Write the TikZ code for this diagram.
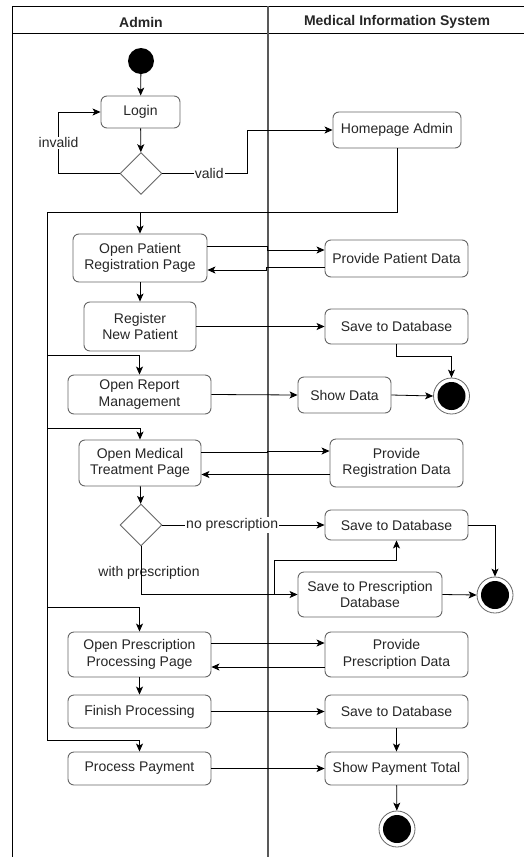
\documentclass[tikz,border=0pt]{standalone}
\usepackage{fontspec}
\setmainfont{Liberation Sans}
\usetikzlibrary{shapes.geometric,arrows.meta,calc}
\begin{document}
\begin{tikzpicture}[x=1pt,y=-1pt,
  act/.style={draw=black!60, line width=0.9pt, rounded corners=6pt, fill=white, inner sep=0pt, align=center, text=black!85, font=\fontsize{14}{16.5}\selectfont},
  box/.style 2 args={act, minimum width=#1pt, minimum height=#2pt},
  dec/.style={draw=black!60, line width=0.9pt, diamond, inner sep=0pt, minimum width=42pt, minimum height=42pt, fill=white},
  startnode/.style={circle, fill=black, inner sep=0pt, minimum size=26pt},
  endnode/.style={circle, draw=black!60, line width=0.8pt, fill=white, inner sep=0pt, minimum size=36pt},
  conn/.style={draw=black, line width=0.8pt},
  arr/.style={conn, -{Stealth[length=8pt,width=7pt,inset=2pt]}},
  lbl/.style={fill=white, inner sep=1pt, text=black!85, font=\fontsize{14}{16}\selectfont},
  lblfree/.style={inner sep=1pt, text=black!85, font=\fontsize{14}{16}\selectfont},
  lanehead/.style={text=black!85, font=\bfseries\fontsize{14}{16}\selectfont},
  lane/.style={draw=black, line width=1pt},
  divider/.style={draw=black!65, line width=1.2pt},
]
\useasboundingbox (0,0) rectangle (524,857);
\fill[white] (0,0) rectangle (524,857);

% swimlanes
\draw[lane] (12,857) -- (12,6) -- (524,6);
\draw[lane] (12,33) -- (524,33);
\draw[divider] (268,6) -- (268,857);
\node[lanehead] (hadmin) at (141,22) {Admin};
\node[lanehead] (hmis) at (397,22) {Medical Information System};

% nodes
\node[startnode] (start) at (141,61) {};
\node[box={79}{32}] (login) at (140.5,112) {Login};
\node[dec] (dec1) at (141,173.5) {};
\node[box={128}{36}] (home) at (397,130) {Homepage Admin};
\node[box={134}{48}] (oprp) at (140,258) {Open Patient\\Registration Page};
\node[box={143}{37}] (ppd) at (396.5,258.5) {Provide Patient Data};
\node[box={112}{49}] (rnp) at (140,326.5) {Register\\New Patient};
\node[box={143}{35}] (sdb1) at (396.5,326.5) {Save to Database};
\node[endnode] (fin1) at (451.5,396) {};
\fill (fin1) circle (14pt);
\node[box={143}{39}] (orm) at (139.5,394.5) {Open Report\\Management};
\node[box={93}{36}] (show) at (344.5,395) {Show Data};
\node[box={122}{46}] (omtp) at (140,463) {Open Medical\\Treatment Page};
\node[box={133}{48}] (prd) at (396.5,463) {Provide\\Registration Data};
\node[dec] (dec2) at (141,525) {};
\node[box={143}{30}] (sdb2) at (396.5,525) {Save to Database};
\node[endnode] (fin2) at (495,595) {};
\fill (fin2) circle (14pt);
\node[box={144}{45}] (spd) at (370,594.5) {Save to Prescription\\Database};
\node[box={143}{45}] (oppp) at (139.5,654.5) {Open Prescription\\Processing Page};
\node[box={143}{45}] (pprd) at (396.5,654.5) {Provide\\Prescription Data};
\node[box={143}{33}] (fp) at (139.5,711.5) {Finish Processing};
\node[box={143}{33}] (sdb3) at (396.5,711.5) {Save to Database};
\node[box={143}{33}] (pp) at (139.5,768.5) {Process Payment};
\node[box={143}{33}] (spt) at (396.5,768.5) {Show Payment Total};
\node[endnode] (fin3) at (397,829) {};
\fill (fin3) circle (14pt);

% spine coordinates
\coordinate (sp1) at (47,212);
\coordinate (sp2) at (47,355);
\coordinate (sp3) at (47,428);
\coordinate (sp4) at (47,607);
\coordinate (sp5) at (47,740);

% connectors
\draw[arr] (start) -- (login);
\draw[arr] (login) -- (dec1);
\draw[arr] (dec1.west) -| node[lbl, pos=0.75] {invalid} ([xshift=-42pt]login.west) -- (login.west);
\draw[arr] (dec1.east) -- node[lbl, pos=0.55] {valid} ++(85,0) |- (home.west);
\draw[conn] (home.south) |- (sp1) -- (sp5);
\draw[arr] (sp1) -| (oprp.north);
\draw[arr] (sp2) -| (orm.north);
\draw[arr] (sp3) -| (omtp.north);
\draw[arr] (sp4) -| (oppp.north);
\draw[arr] (sp5) -| (pp.north);

\draw[arr] ([yshift=12pt]oprp.east) -- ++(60,0) |- ([yshift=8.5pt]ppd.west);
\draw[arr] ([yshift=-9pt]ppd.west) -- ++(-58,0) |- ([yshift=-12pt]oprp.east);
\draw[arr] (oprp) -- (rnp);
\draw[arr] (rnp.east) -- (sdb1.west);
\draw[arr] (sdb1.south) -- ++(0,12) -| (fin1.north);
\draw[arr] (orm.east) -- (show.west);
\draw[arr] (show.east) -- (fin1.west);

\draw[arr] ([yshift=11pt]omtp.east) -- ++(66,0) |- ([yshift=12pt]prd.west);
\draw[arr] ([yshift=-11.5pt]prd.west) -- ([yshift=-11.5pt]omtp.east);
\draw[arr] (omtp) -- (dec2);
\draw[arr] (dec2.east) -- node[lbl, pos=0.43] {no prescription} (sdb2.west);
\draw[arr] (dec2.south) |- node[lblfree, pos=0.27, xshift=8pt] {with prescription} (spd.west);
\draw[arr] (dec2.south) |- ([xshift=-23pt]spd.west) |- ([yshift=-20pt]sdb2.south) -- (sdb2.south);
\draw[arr] (sdb2.east) -| (fin2.north);
\draw[arr] (spd.east) -- (fin2.west);

\draw[arr] ([yshift=11.5pt]oppp.east) -- ([yshift=11.5pt]pprd.west);
\draw[arr] ([yshift=-12.5pt]pprd.west) -- ([yshift=-12.5pt]oppp.east);
\draw[arr] (oppp) -- (fp);
\draw[arr] (fp.east) -- (sdb3.west);
\draw[arr] (sdb3) -- (spt);
\draw[arr] (pp.east) -- (spt.west);
\draw[arr] (spt) -- (fin3);
\end{tikzpicture}
\end{document}
